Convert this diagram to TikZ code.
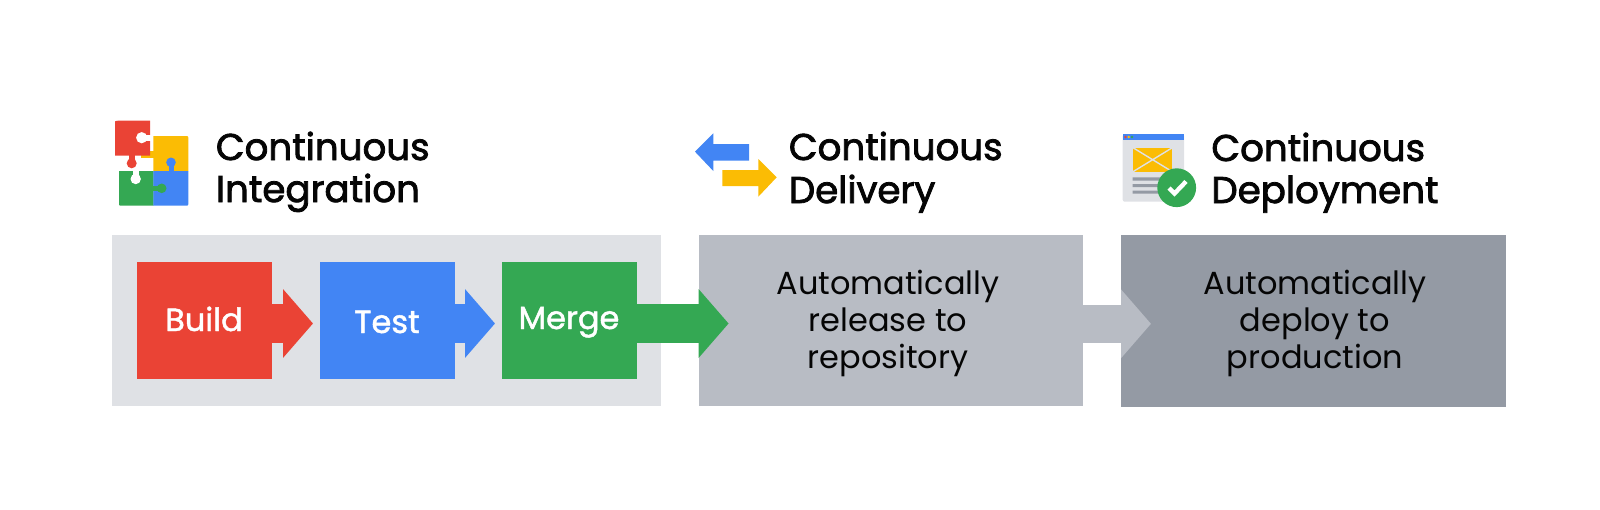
\documentclass[tikz,border=0pt]{standalone}
\usepackage{fontspec}
\setmainfont{Poppins}
\newfontfamily\hdfont[FakeBold=2.2]{Poppins}
\newfontfamily\stepfont[FakeBold=1.4]{Poppins}
\usetikzlibrary{arrows.meta}
\definecolor{gred}{HTML}{EA4335}
\definecolor{gblue}{HTML}{4285F4}
\definecolor{ggreen}{HTML}{34A853}
\definecolor{gyellow}{HTML}{FBBC04}
\definecolor{panelA}{HTML}{DFE1E5}
\definecolor{panelB}{HTML}{B8BCC4}
\definecolor{panelC}{HTML}{949AA4}
\definecolor{inkblack}{HTML}{050505}
\tikzset{
  x=0.5pt,y=-0.5pt,
  panel/.style={fill=#1,inner sep=0pt,outer sep=0pt,anchor=north west},
  stepbox/.style={fill=#1,inner sep=0pt,outer sep=0pt,minimum width=67.4pt,minimum height=58.3pt,anchor=north west},
  flow/.style={draw=#1,line width=19.3pt,-{Triangle[length=15pt,width=33.6pt]}},
  steptext/.style={text=white,font=\fontsize{16}{18}\selectfont\stepfont,anchor=base,inner sep=0pt},
  head/.style={text=inkblack,font=\fontsize{18.6}{21}\selectfont\hdfont,anchor=base west,inner sep=0pt},
  body/.style={text=inkblack,font=\fontsize{16}{19}\selectfont,anchor=base,inner sep=0pt}
}
\begin{document}
\begin{tikzpicture}
\useasboundingbox (0,0) rectangle (1600,509);
% panels
\node[panel=panelA,minimum width=274.5pt,minimum height=85.4pt] (ci) at (112,235) {};
\node[panel=panelB,minimum width=192pt,minimum height=85.5pt] (cd) at (699,235) {};
\node[panel=panelC,minimum width=192.5pt,minimum height=86pt] (dp) at (1121,234.5) {};
% steps
\node[stepbox=gred] (build) at (136.7,262) {};
\node[stepbox=gblue] (test) at (320.4,262) {};
\node[stepbox=ggreen] (merge) at (502.4,262) {};
% connectors
\coordinate (tipa) at (313,323.5);
\coordinate (tipb) at (495,323.5);
\coordinate (tipc) at (728.6,323.5);
\coordinate (tipd) at (1151,323.8);
\draw[flow=gred] (build.east |- tipa) -- (tipa);
\draw[flow=gblue] (test.east |- tipb) -- (tipb);
\draw[flow=ggreen] (merge.east |- tipc) -- (tipc);
\draw[flow=panelB] (cd.east |- tipd) -- (tipd);
% step labels
\node[steptext] (tbuild) at (204,331) {Build};
\node[steptext] (ttest) at (387,333) {Test};
\node[steptext] (tmerge) at (569,329) {Merge};
% body text
\node[body] (r1) at (888,294) {Automatically};
\node[body] (r2) at (888,331.5) {release to};
\node[body] (r3) at (888,368.5) {repository};
\node[body] (p1) at (1315,294) {Automatically};
\node[body] (p2) at (1315,331.5) {deploy to};
\node[body] (p3) at (1315,368.5) {production};
% headings
\node[head] (h1a) at (215.5,160) {Continuous};
\node[head] (h1b) at (215.5,202) {Integration};
\node[head] (h2a) at (788.5,160) {Continuous};
\node[head] (h2b) at (788.5,203) {Delivery};
\node[head] (h3a) at (1211,161) {Continuous};
\node[head] (h3b) at (1211,203) {Deployment};
% puzzle icon
\fill[gyellow] (153.3,136) -- (185,136) .. controls (188.3,136) .. (188.3,139.3) -- (188.3,171) -- (153.3,171) -- cycle;
\fill[gyellow] (141,151) rectangle (153.5,158);
\fill[ggreen] (119,171) -- (153.5,171) -- (153.5,205.7) -- (122.3,205.7) .. controls (119,205.7) .. (119,202.4) -- cycle;
\fill[gblue] (153.3,171) -- (188.3,171) -- (188.3,202.4) .. controls (188.3,205.7) .. (185,205.7) -- (153.3,205.7) -- cycle;
\fill[gblue] (171,162.3) circle[radius=2.4pt];
\fill[gblue] (168.5,162) rectangle (173.5,171);
\fill[ggreen] (161.7,188.3) circle[radius=2.4pt];
\fill[ggreen] (153,185.5) rectangle (162,191);
\fill[white] (135.7,179) circle[radius=2.6pt];
\fill[white] (133,170) rectangle (138.5,179);
\fill[gred] (118,120.7) -- (150,120.7) -- (150,155.7) -- (115,155.7) -- (115,124) .. controls (115,120.7) .. (118,120.7) -- cycle;
\fill[gred] (131.7,163.3) circle[radius=2.5pt];
\fill[gred] (128.5,155) rectangle (135,163);
\fill[white] (141.7,137.7) circle[radius=2.8pt];
\fill[white] (142,134.5) rectangle (151,140.5);
% swap arrows icon
\fill[gblue] (695,151.7) -- (713.3,133.3) -- (713.3,144) -- (749,144) -- (749,160.7) -- (713.3,160.7) -- (713.3,171) -- cycle;
\fill[gyellow] (776.7,177.3) -- (758.3,159) -- (758.3,170) -- (722.3,170) -- (722.3,186) -- (758.3,186) -- (758.3,196.7) -- cycle;
% page icon
\fill[panelA,rounded corners=1pt] (1122.7,134) rectangle (1184,201.7);
\fill[gblue] (1122.7,134) rectangle (1184,140);
\fill[gred] (1125.5,137) circle[radius=0.7pt];
\fill[gyellow] (1128.8,137) circle[radius=0.7pt];
\fill[ggreen] (1132,137) circle[radius=0.7pt];
\fill[gyellow] (1133,147.7) rectangle (1172.3,171.7);
\draw[panelA,line width=0.7pt] (1133,147.7) -- (1172.3,171.7) (1172.3,147.7) -- (1133,171.7);
\fill[panelC] (1132.7,177.3) rectangle (1170,180.5) (1132.7,184) rectangle (1170,187.2) (1132.7,190.5) rectangle (1170,193.7);
\fill[ggreen] (1176.7,187.7) circle[radius=9.7pt];
\draw[white,line width=2.2pt] (1169,188) -- (1174.5,193.5) -- (1186,181.5);
\end{tikzpicture}
\end{document}
